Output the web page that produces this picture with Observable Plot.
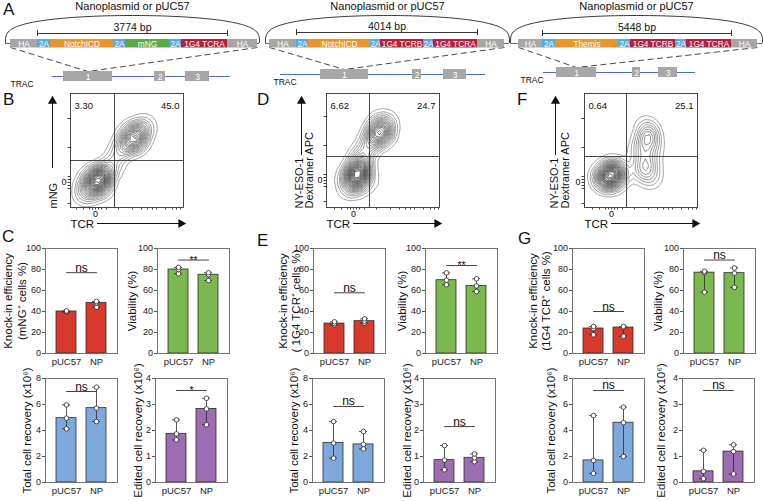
<!DOCTYPE html>
<html><head><meta charset="utf-8">
<script src="https://cdn.jsdelivr.net/npm/d3@7"></script>
<script src="https://cdn.jsdelivr.net/npm/@observablehq/plot@0.6"></script>
<style>
body{margin:0;background:#fff;}
#fig{position:relative;width:763px;height:501px;overflow:hidden;background:#fff;font-family:'Liberation Sans',Arial,Helvetica,sans-serif;color:#111;}
#fig svg{position:absolute;background:transparent;overflow:visible;}
.lt{position:absolute;font-size:17px;line-height:17px;color:#111;}
</style></head>
<body><div id="fig"></div>
<script>
// ---------------- DATA ----------------
// Panel A constructs
const A_titles = ["Nanoplasmid or pUC57", "Nanoplasmid or pUC57", "Nanoplasmid or pUC57"];
const A_sizes = ["3774 bp", "4014 bp", "5448 bp"];
const A1_parts = ["HA", "2A", "NotchICD", "2A", "mNG", "2A", "1G4 TCRA", "HA"];
const A1_len = [27, 13, 63, 12, 44, 12, 46, 30];
const A2_parts = ["HA", "2A", "NotchICD", "2A", "1G4 TCRB", "2A", "1G4 TCRA", "HA"];
const A2_len = [27, 12, 62, 10, 43, 10, 44, 27];
const A3_parts = ["HA", "2A", "Themis", "2A", "1G4 TCRB", "2A", "1G4 TCRA", "HA"];
const A3_len = [24, 13, 63, 12, 45, 11, 45, 26];
const exonNames = ["1", "2", "3"];
const A1_exons = [[63, 112], [154, 165], [185, 209]];
const A2_exons = [[65, 113], [157, 166], [188, 211]];
const A3_exons = [[51, 91], [127, 135], [153, 172]];
const A_gene = [[52, 230], [25, 230], [38, 190]];
const A_start = [10, 14, 13];
const A_backbone = [[5, 259], [10, 254], [5, 257]];

// Flow plots: [TCR, marker, weight] event density seeds (frame units)
const B_events = [
  [27,27,5],[22,22,3],[32,32,3],[17,16,1.6],[37,37,1.6],[23,31,1.3],[31,23,1.3],[12,11,0.7],[41,43,0.8],[17,28,0.6],[35,19,0.6],[44,48,0.5],[47,53,0.45],[12,22,0.3],[26,13,0.3],
  [63,70,4],[58,65,2.6],[68,75,2.6],[53,59,1.3],[73,81,1.1],[58,75,1.1],[68,64,1.1],[49,55,0.6],[77,86,0.4],[80,72,0.3],
  [67,25,0.35],[70,38,0.15],[55,30,0.15]
];
const D_events = [
  [31,34,5],[29,28,3],[33,40,3],[27,22,1.8],[35,46,1.6],[24,33,1.3],[38,31,1.3],[21,17,0.7],[31,52,0.7],[17,28,0.5],[40,20,0.4],
  [54,77,3.6],[50,72,3],[46,66,1.8],[58,82,1.8],[42,60,1.2],[57,71,1.2],[52,86,0.9],[38,55,0.8],[62,88,0.5],
  [60,35,0.25],[66,25,0.2],[55,20,0.2]
];
const F_events = [
  [26,32,6],[21,30,2.6],[31,34,2.6],[24,27,2.2],[28,37,2.2],[16,28,1.1],[36,36,1.1],[26,21,0.9],[26,43,0.9],[13,34,0.5],[38,26,0.4],
  [64,71,3.4],[61,63,2.2],[59,51,1.8],[60,41,2.2],[66,30,2.2],[63,79,1.4],[55,35,1.1],[68,46,1.1],[52,58,0.8],[70,60,0.8],[58,86,0.4]
];
const B_quad = ["3.30", "45.0"];
const D_quad = ["6.62", "24.7"];
const F_quad = ["0.64", "25.1"];
const B_gates = [44, 47];
const D_gates = [43, 51];
const F_gates = [42, 51];
const flowYTicks = [4, 19, 22, 25, 28, 31, 60, 89];
const flowXTicks = [6, 13, 19, 22, 25, 28, 31, 36, 48, 62, 71, 77, 82, 86, 95, 102, 106, 110];

// Bar charts: replicate values (pUC57, NP)
const groups = ["pUC57", "NP"];
const C_knockin = [[39.4, 40, 40.6], [44, 48.2, 49.6]];
const C_viability = [[76, 80, 82], [69.5, 75, 77]];
const C_total = [[4.13, 4.95, 5.97], [4.69, 5.72, 7.33]];
const C_edited = [[1.64, 1.87, 2.41], [2.22, 2.83, 3.24]];
const E_knockin = [[27.3, 28.5, 30.2], [29, 30.8, 33]];
const E_viability = [[65.4, 69.8, 76.8], [59, 64.3, 71.1]];
const E_total = [[1.87, 3.03, 4.69], [2.59, 2.93, 3.92]];
const E_edited = [[0.49, 0.86, 1.42], [0.8, 0.95, 1.1]];
const G_knockin = [[17.8, 23.8, 25.8], [16.5, 24.7, 25.8]];
const G_viability = [[58.4, 77, 78.3], [63, 76.5, 81.5]];
const G_total = [[0.7, 1.7, 5.15], [2.0, 4.6, 5.8]];
const G_edited = [[0.15, 0.43, 1.24], [0.33, 1.19, 1.45]];
const C_sig = ["ns", "**", "ns", "*"];
const C_sigY = [77, 89, 7.0, 3.54];
const E_sig = ["ns", "**", "ns", "ns"];
const E_sigY = [57.8, 83.8, 5.85, 2.15];
const G_sig = ["ns", "ns", "ns", "ns"];
const G_sigY = [40, 89, 7.08, 3.54];
const pctTicks = [0, 20, 40, 60, 80, 100];
const totalTicks = [0, 2, 4, 6, 8];
const editedTicks = [0, 1, 2, 3, 4];
const C_kiLabel = "Knock-in efficiency\n(mNG\u207A cells %)";
const E_kiLabel = "Knock-in efficiency\n( 1G4 TCR\u207A cells %)";
const G_kiLabel = "Knock-in efficiency\n(1G4 TCR\u207A cells %)";
const viaLabel = "Viability (%)";
const totalLabel = "Total cell recovery (x10\u2076)";
const editedLabel = "Edited cell recovery (x10\u2076)";

// ---------------- RENDER ----------------
const FONT = "'Liberation Sans', Arial, Helvetica, sans-serif";
const fig = document.getElementById("fig");
function place(el, x, y) { el.style.position = "absolute"; el.style.left = x + "px"; el.style.top = y + "px"; fig.appendChild(el); }
function letter(t, x, y) { const d = document.createElement("div"); d.className = "lt"; d.textContent = t; place(d, x, y); }
const baseStyle = {fontFamily: FONT, background: "transparent", overflow: "visible", color: "#111"};

const partColor = {HA: "#a7a7a7", "2A": "#54a9e6", NotchICD: "#e8962e", Themis: "#e8962e", mNG: "#5aab47", "1G4 TCRA": "#b3213c", "1G4 TCRB": "#b3213c"};
const BLUE = "#4b6cc0";

function construct(i, parts, lens, exons, left) {
  let s = A_start[i];
  const segs = parts.map((p, j) => { const o = {name: p, x1: s, x2: s + lens[j]}; s += lens[j]; return o; });
  const boxEnd = s;
  const [b0, b1] = A_backbone[i];
  const gy = [76, 74, 72][i];
  const barY = [33, 32, 33][i];
  const cx = (b0 + b1) / 2, rx = (b1 - b0) / 2, ry = 27;
  const arc = d3.range(0, 181, 2).map(a => {
    const t = a * Math.PI / 180;
    return {x: cx - rx * Math.cos(t), y: 42 - ry * Math.pow(Math.sin(t), 0.6)};
  });
  const ex = exons.map((e, j) => ({name: exonNames[j], x1: e[0], x2: e[1]}));
  const ex1c = (ex[0].x1 + ex[0].x2) / 2;
  const svg = Plot.plot({
    width: 258, height: 86, margin: 0,
    x: {domain: [0, 258], range: [0, 258], axis: null},
    y: {domain: [0, 86], range: [0, 86], axis: null},
    color: {type: "identity"},
    style: {...baseStyle, fontSize: "9px"},
    marks: [
      Plot.line(arc, {x: "x", y: "y", stroke: "#222", strokeWidth: 0.9}),
      Plot.ruleY([43], {x1: b0, x2: b1, stroke: BLUE, strokeWidth: 1.2}),
      Plot.link([{x1: boxEnd, y1: 47, x2: ex1c, y2: gy - 5}, {x1: segs[0].x1, y1: 47, x2: ex1c, y2: gy - 5}],
        {x1: "x1", y1: "y1", x2: "x2", y2: "y2", stroke: "#333", strokeWidth: 0.9, strokeDasharray: "6,3.5"}),
      Plot.rect(segs, {x1: "x1", x2: "x2", y1: 39, y2: 47.5, fill: d => partColor[d.name]}),
      Plot.text(segs, {x: d => (d.x1 + d.x2) / 2, y: 43.5, text: "name", fill: "white", fontSize: 8.3}),
      Plot.ruleY([barY], {x1: segs[1].x1, x2: segs[6].x2, stroke: "#222", strokeWidth: 0.9}),
      Plot.ruleX([segs[1].x1, segs[6].x2], {y1: barY - 3, y2: barY + 3, stroke: "#222", strokeWidth: 0.9}),
      Plot.text([A_sizes[i]], {x: (segs[1].x1 + segs[6].x2) / 2, y: barY - 5.5, fontSize: 10.5, fill: "#111"}),
      Plot.text([A_titles[i]], {x: cx, y: 6, fontSize: 11, fill: "#111"}),
      Plot.ruleY([gy], {x1: A_gene[i][0], x2: A_gene[i][1], stroke: BLUE, strokeWidth: 1.1}),
      Plot.rect(ex, {x1: "x1", x2: "x2", y1: gy - 5, y2: gy + 5, fill: "#a7a7a7"}),
      Plot.text(ex, {x: d => (d.x1 + d.x2) / 2, y: gy + 0.5, text: "name", fill: "white", fontSize: 8.5}),
      Plot.text(["TRAC"], {x: [10, 18, 15][i], y: gy + 7.5, textAnchor: "start", fontSize: 8.5, fill: "#111"})
    ]
  });
  place(svg, left, 0);
}
construct(0, A1_parts, A1_len, A1_exons, 0);
construct(1, A2_parts, A2_len, A2_exons, 255);
construct(2, A3_parts, A3_len, A3_exons, 505);

function flowPlot(events, quad, gates, o) {
  const W = 113, H = 114, mL = 38, mR = 6, mT = 4, mB = 28;
  const svg = Plot.plot({
    width: mL + W + mR, height: mT + H + mB,
    marginLeft: mL, marginRight: mR, marginTop: mT, marginBottom: mB,
    x: {domain: [0, W], axis: null},
    y: {domain: [0, H], axis: null},
    color: {type: "linear", range: ["#6e6e6e", "#000000"]},
    style: {...baseStyle, fontSize: "9px"},
    marks: [
      Plot.density(events, {x: d => d[0], y: d => d[1], weight: d => d[2], bandwidth: 5.5, thresholds: 22,
        stroke: "density", strokeWidth: 0.6, clip: true}),
      Plot.ruleX([gates[0]], {stroke: "#333", strokeWidth: 0.9}),
      Plot.ruleY([gates[1]], {stroke: "#333", strokeWidth: 0.9}),
      Plot.frame({stroke: "#333", strokeWidth: 0.9}),
      Plot.text([quad[0]], {frameAnchor: "top-left", dx: 4, dy: 9, fontSize: 9.5, fill: "#111"}),
      Plot.text([quad[1]], {frameAnchor: "top-right", dx: -4, dy: 9, fontSize: 9.5, fill: "#111"}),
      Plot.axisY(flowYTicks.map(t => t + o.y0 - 25), {tickSize: 2.5, tickPadding: 1.5, fontSize: 9, label: null,
        tickFormat: d => d === o.y0 ? "0" : "", stroke: "#444"}),
      Plot.axisX(flowXTicks.map(t => t + o.x0 - 25), {tickSize: 2.5, tickPadding: 0.5, fontSize: 9, label: null,
        tickFormat: d => d === o.x0 ? "0" : "", stroke: "#444"}),
      Plot.text([o.ylab], {x: o.labX, y: -1, rotate: -90, textAnchor: "start", fontSize: 11, lineHeight: 0.95, fill: "#111"}),
      Plot.ruleX([o.arrowX], {y1: o.arrowY1, y2: 106, stroke: "#111", strokeWidth: 1}),
      Plot.dot([o.arrowX], {x: d => d, y: 106.5, symbol: "triangle", r: 3.4, fill: "#111", stroke: "none"}),
      Plot.text(["TCR"], {x: 0, y: -16.5, textAnchor: "start", fontSize: 11.5, fill: "#111"}),
      Plot.ruleY([-16], {x1: 27, x2: 110, stroke: "#111", strokeWidth: 1}),
      Plot.dot([-16], {x: 110.5, y: d => d, symbol: "triangle", rotate: 90, r: 3.4, fill: "#111", stroke: "none"})
    ]
  });
  place(svg, o.fx - mL, o.fy - mT);
}
flowPlot(B_events, B_quad, B_gates, {fx: 70, fy: 93, x0: 25, y0: 25, ylab: "mNG", labX: -17, arrowX: -18, arrowY1: 39});
flowPlot(D_events, D_quad, D_gates, {fx: 326, fy: 93, x0: 27, y0: 27, ylab: "NY-ESO-1\nDextramer APC", labX: -22, arrowX: -25, arrowY1: 52});
flowPlot(F_events, F_quad, F_gates, {fx: 584, fy: 93, x0: 27, y0: 25, ylab: "NY-ESO-1\nDextramer APC", labX: -24.5, arrowX: -29, arrowY1: 52});

const INK = "#2b2b2b";
function barChart(pts, o) {
  const w = 72, mL = 46, mR = 4, mT = 12, mB = 17;
  const stats = groups.map((g, i) => ({g, med: d3.median(pts[i]), lo: d3.min(pts[i]), hi: d3.max(pts[i])}));
  const rows = groups.flatMap((g, i) => pts[i].map(v => ({g, v})));
  const svg = Plot.plot({
    width: mL + w + mR, height: mT + o.h + mB,
    marginLeft: mL, marginRight: mR, marginTop: mT, marginBottom: mB,
    style: {...baseStyle, fontSize: "9px"},
    x: {domain: groups, padding: 0.33, axis: null},
    y: {domain: [0, o.ymax], axis: null},
    marks: [
      Plot.barY(stats, {x: "g", y: "med", fill: o.color, stroke: INK, strokeWidth: 0.8}),
      Plot.ruleX(stats, {x: "g", y1: "lo", y2: "hi", stroke: INK, strokeWidth: 0.8}),
      Plot.tickY(stats, {x: "g", y: "lo", stroke: INK, strokeWidth: 0.8, insetLeft: 6, insetRight: 6}),
      Plot.tickY(stats, {x: "g", y: "hi", stroke: INK, strokeWidth: 0.8, insetLeft: 6, insetRight: 6}),
      Plot.dot(rows, {x: "g", y: "v", r: 2.3, fill: "white", stroke: INK, strokeWidth: 0.8}),
      Plot.frame({stroke: "#666", strokeWidth: 0.9}),
      Plot.axisY(o.ticks, {tickSize: 3, tickPadding: 1.5, fontSize: 9, label: null, stroke: "#555", fill: "#222"}),
      Plot.axisX(groups, {tickSize: 0, tickPadding: 5, fontSize: 9.5, label: null, fill: "#222"}),
      Plot.lineY(groups.map(g => ({g, y: o.sigY})), {x: "g", y: "y", stroke: "#444", strokeWidth: 1}),
      Plot.text([o.sig], {y: o.sigY, lineAnchor: "bottom", dy: o.sig === "ns" ? -1 : 3.5, fontSize: o.sig === "ns" ? 12 : 10.5, fill: "#111"}),
      Plot.text([o.label], {frameAnchor: "left", rotate: -90, textAnchor: "middle", lineAnchor: "middle", dx: o.ldx, fontSize: 11.5, lineHeight: o.lh || 1, fill: "#111"})
    ]
  });
  place(svg, o.ax - mL, o.top - mT);
}
const RED = "#d8392b", GREEN = "#7bb84d", LBLUE = "#7ca8de", PURPLE = "#9c6db0";
const TOP = 248, BOT = 378;
// C
barChart(C_knockin, {ax: 45, top: TOP, h: 105, ymax: 100, ticks: pctTicks, color: RED, label: C_kiLabel, ldx: -31, lh: 1.2, sig: C_sig[0], sigY: C_sigY[0]});
barChart(C_viability, {ax: 157, top: TOP, h: 105, ymax: 100, ticks: pctTicks, color: GREEN, label: viaLabel, ldx: -25, sig: C_sig[1], sigY: C_sigY[1]});
barChart(C_total, {ax: 45, top: BOT, h: 104, ymax: 8, ticks: totalTicks, color: LBLUE, label: totalLabel, ldx: -18, sig: C_sig[2], sigY: C_sigY[2]});
barChart(C_edited, {ax: 155, top: BOT, h: 104, ymax: 4, ticks: editedTicks, color: PURPLE, label: editedLabel, ldx: -17, sig: C_sig[3], sigY: C_sigY[3]});
// E
barChart(E_knockin, {ax: 313, top: TOP, h: 105, ymax: 100, ticks: pctTicks, color: RED, label: E_kiLabel, ldx: -24, lh: 1.12, sig: E_sig[0], sigY: E_sigY[0]});
barChart(E_viability, {ax: 425, top: TOP, h: 105, ymax: 100, ticks: pctTicks, color: GREEN, label: viaLabel, ldx: -23, sig: E_sig[1], sigY: E_sigY[1]});
barChart(E_total, {ax: 312, top: BOT, h: 104, ymax: 8, ticks: totalTicks, color: LBLUE, label: totalLabel, ldx: -18, sig: E_sig[2], sigY: E_sigY[2]});
barChart(E_edited, {ax: 423, top: BOT, h: 104, ymax: 4, ticks: editedTicks, color: PURPLE, label: editedLabel, ldx: -16, sig: E_sig[3], sigY: E_sigY[3]});
// G
barChart(G_knockin, {ax: 572, top: TOP, h: 105, ymax: 100, ticks: pctTicks, color: RED, label: G_kiLabel, ldx: -33, lh: 1.12, sig: G_sig[0], sigY: G_sigY[0]});
barChart(G_viability, {ax: 683, top: TOP, h: 105, ymax: 100, ticks: pctTicks, color: GREEN, label: viaLabel, ldx: -25, sig: G_sig[1], sigY: G_sigY[1]});
barChart(G_total, {ax: 572, top: BOT, h: 104, ymax: 8, ticks: totalTicks, color: LBLUE, label: totalLabel, ldx: -21, sig: G_sig[2], sigY: G_sigY[2]});
barChart(G_edited, {ax: 682, top: BOT, h: 104, ymax: 4, ticks: editedTicks, color: PURPLE, label: editedLabel, ldx: -21, sig: G_sig[3], sigY: G_sigY[3]});

// Panel letters
letter("A", 3, 1);
letter("B", 3, 91);
letter("D", 257, 91);
letter("F", 517, 91);
letter("C", 2, 228);
letter("E", 257, 232);
letter("G", 518, 230);
</script>
</body></html>
